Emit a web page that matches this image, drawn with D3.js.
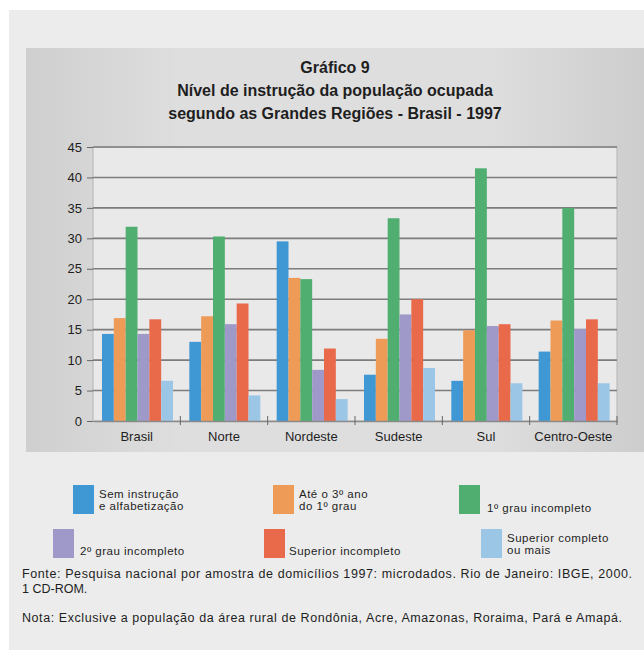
<!DOCTYPE html>
<html lang="pt">
<head>
  <meta charset="UTF-8">
  <title>Gráfico 9</title>
  <script src="https://d3js.org/d3.v7.min.js"></script>
  <style>
    body { margin: 0; background: #fff; }
    svg text { font-family: "Liberation Sans", Arial, sans-serif; fill: #1e1e1e; }
  </style>
</head>
<body>
  <div class="canvas"></div>
  <script>
    const regions = ["Brasil", "Norte", "Nordeste", "Sudeste", "Sul", "Centro-Oeste"];
    const series = ["sem", "ate3", "prim", "seg", "supInc", "supComp"];
    const seriesLabels = [
      ["Sem instrução", "e alfabetização"],
      ["Até o 3º ano", "do 1º grau"],
      ["1º grau incompleto"],
      ["2º grau incompleto"],
      ["Superior incompleto"],
      ["Superior completo", "ou mais"]
    ];
    const colors = ["#3f97d4", "#ee9b57", "#4fae70", "#9e99c8", "#e96a4b", "#9cc6e6"];

    // percentage of each level, one array per region
    const brasil = [14.3, 16.9, 31.9, 14.3, 16.7, 6.6];
    const norte = [13.0, 17.2, 30.3, 15.9, 19.3, 4.2];
    const nordeste = [29.5, 23.5, 23.3, 8.4, 11.9, 3.6];
    const sudeste = [7.6, 13.5, 33.3, 17.5, 20.0, 8.7];
    const sul = [6.6, 14.9, 41.5, 15.6, 15.9, 6.2];
    const centroOeste = [11.4, 16.5, 35.0, 15.1, 16.7, 6.2];
    const yTicks = [0, 5, 10, 15, 20, 25, 30, 35, 40, 45];

    const titleLines = [
      "Gráfico 9",
      "Nível de instrução da população ocupada",
      "segundo as Grandes Regiões - Brasil - 1997"
    ];
    const notes = [
      "Fonte: Pesquisa nacional por amostra de domicílios 1997: microdados. Rio de Janeiro: IBGE, 2000.",
      "1 CD-ROM.",
      "Nota: Exclusive a população da área rural de Rondônia, Acre, Amazonas, Roraima, Pará e Amapá."
    ];

    const table = [brasil, norte, nordeste, sudeste, sul, centroOeste].map((vals, i) => ({
      region: regions[i],
      values: vals.map((v, j) => ({ key: series[j], value: v }))
    }));

    const width = 644, height = 650;
    const plot = { left: 93, right: 617, top: 147, bottom: 421 };

    const svg = d3.select(".canvas").append("svg")
      .attr("width", width)
      .attr("height", height);

    const defs = svg.append("defs");
    const grad = defs.append("linearGradient").attr("id", "panelGrad");
    grad.append("stop").attr("offset", "0%").attr("stop-color", "#cfcfcf");
    grad.append("stop").attr("offset", "25%").attr("stop-color", "#dedede");
    grad.append("stop").attr("offset", "75%").attr("stop-color", "#dedede");
    grad.append("stop").attr("offset", "100%").attr("stop-color", "#cdcdcd");

    // outer card and chart panel
    svg.append("rect").attr("x", 9).attr("y", 10).attr("width", width - 9).attr("height", height - 10)
      .attr("fill", "#ececec");
    svg.append("rect").attr("x", 26).attr("y", 48).attr("width", width - 26).attr("height", 404)
      .attr("fill", "url(#panelGrad)");

    svg.selectAll(".title").data(titleLines).join("text")
      .attr("class", "title")
      .attr("x", 335)
      .attr("y", (d, i) => 73 + i * 23)
      .attr("text-anchor", "middle")
      .style("font-size", "16px")
      .style("font-weight", "bold")
      .text(d => d);

    const x0 = d3.scaleBand().domain(regions).range([plot.left, plot.right]);
    const x1 = d3.scaleBand().domain(series).range([9, 80]);
    const y = d3.scaleLinear().domain([0, 45]).range([plot.bottom, plot.top]);
    const color = d3.scaleOrdinal().domain(series).range(colors);

    svg.append("rect")
      .attr("x", plot.left).attr("y", plot.top)
      .attr("width", plot.right - plot.left).attr("height", plot.bottom - plot.top)
      .attr("fill", "#e9e9e9")
      .attr("stroke", "#b4b4b4");

    // y axis with gridlines
    const yAxis = svg.append("g")
      .attr("transform", `translate(${plot.left},0)`)
      .call(d3.axisLeft(y).tickValues(yTicks).tickSize(6).tickPadding(5));
    yAxis.select(".domain").remove();
    yAxis.selectAll(".tick line").attr("stroke", "#666");
    yAxis.selectAll(".tick text").style("font-size", "13px").attr("fill", "#1e1e1e");
    yAxis.selectAll(".grid").data(yTicks.filter(d => d > 0)).join("line")
      .attr("class", "grid")
      .attr("x1", 0).attr("x2", plot.right - plot.left)
      .attr("y1", d => y(d)).attr("y2", d => y(d))
      .attr("stroke", "#7d7d7d").attr("stroke-width", 1.6);

    // bars
    svg.append("g").selectAll("g").data(table).join("g")
      .attr("transform", d => `translate(${x0(d.region)},0)`)
      .selectAll("rect").data(d => d.values).join("rect")
      .attr("x", d => x1(d.key))
      .attr("width", x1.bandwidth())
      .attr("y", d => y(d.value))
      .attr("height", d => y(0) - y(d.value))
      .attr("fill", d => color(d.key));

    // x axis: separators between regions
    const xAxis = svg.append("g")
      .attr("transform", `translate(0,${plot.bottom})`)
      .call(d3.axisBottom(x0).tickSize(0).tickPadding(11));
    xAxis.select(".domain").attr("stroke", "#8a8a8a").attr("stroke-width", 1.4);
    xAxis.selectAll(".tick text").style("font-size", "13px").attr("fill", "#1e1e1e");
    xAxis.selectAll(".sep").data(regions.slice(1).concat(["end"])).join("line")
      .attr("class", "sep")
      .attr("x1", d => d === "end" ? plot.right : x0(d))
      .attr("x2", d => d === "end" ? plot.right : x0(d))
      .attr("y1", -5).attr("y2", 4)
      .attr("stroke", "#666");

    // legend
    const legendPos = [
      { sx: 73, sy: 485, tx: 99, base: [498, 510] },
      { sx: 273, sy: 485, tx: 299, base: [498, 510] },
      { sx: 459, sy: 485, tx: 487, base: [512] },
      { sx: 53, sy: 529, tx: 80, base: [555] },
      { sx: 264, sy: 529, tx: 289, base: [555] },
      { sx: 481, sy: 529, tx: 507, base: [542, 554] }
    ];
    const legend = svg.append("g").selectAll("g").data(series).join("g");
    legend.append("rect")
      .attr("x", (d, i) => legendPos[i].sx)
      .attr("y", (d, i) => legendPos[i].sy)
      .attr("width", 21).attr("height", 29)
      .attr("fill", d => color(d));
    legend.each(function(d, i) {
      d3.select(this).selectAll("text").data(seriesLabels[i]).join("text")
        .attr("x", legendPos[i].tx)
        .attr("y", (t, k) => legendPos[i].base[k])
        .style("font-size", "11.5px")
        .style("letter-spacing", "0.5px")
        .text(t => t);
    });

    svg.selectAll(".note").data(notes).join("text")
      .attr("class", "note")
      .attr("x", 22)
      .attr("y", (d, i) => [578, 593, 622][i])
      .style("font-size", "12.5px")
      .attr("textLength", (d, i) => [610, null, 600][i])
      .attr("lengthAdjust", "spacing")
      .text(d => d);
  </script>
</body>
</html>
